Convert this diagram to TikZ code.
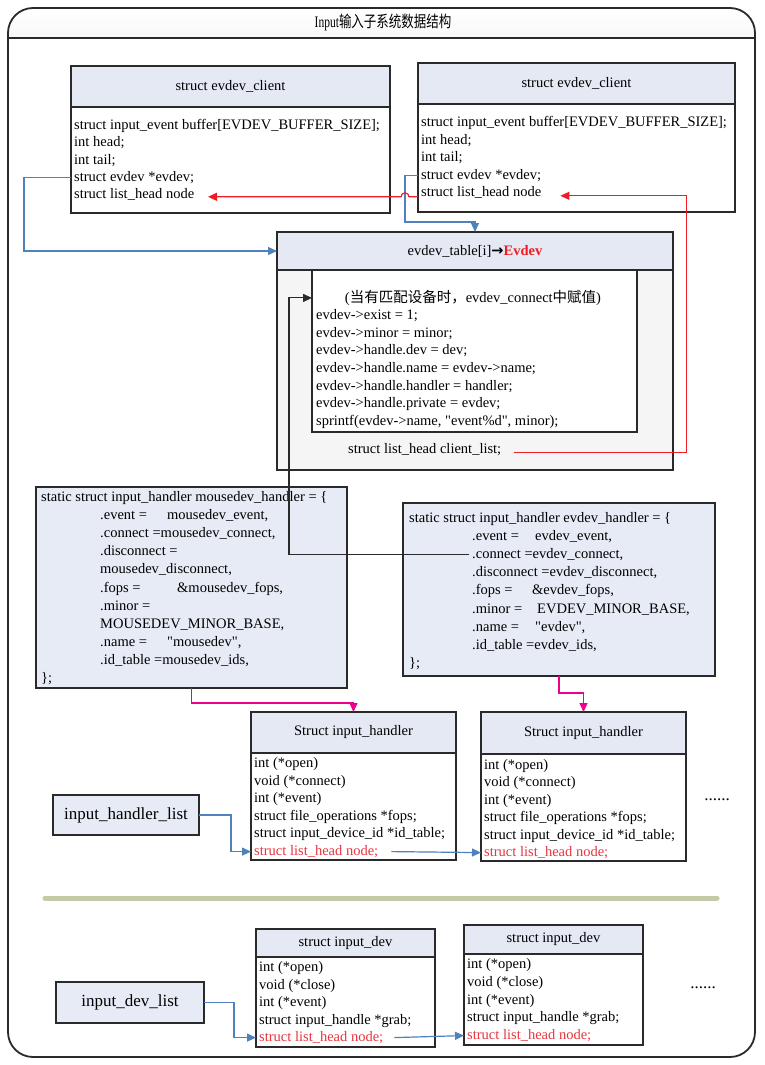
\documentclass[tikz,border=0pt]{standalone}
\usepackage{fontspec}
\setmainfont{Liberation Serif}[Ligatures=TeXOff]
\newfontfamily\cjk{Noto Sans CJK SC}
\newfontfamily\titlecjk{Noto Sans CJK SC}[FakeStretch=0.78]
\newfontfamily\titlerm{Liberation Serif}[FakeStretch=0.72]
\newfontfamily\symf{DejaVu Sans}
\usetikzlibrary{positioning, arrows.meta}
\newcommand\codefont{\fontsize{14.5}{17.5}\selectfont}
\definecolor{hdrfill}{HTML}{E4E9F4}
\definecolor{boxfill}{HTML}{E6EBF5}
\definecolor{tablefill}{HTML}{F5F5F5}
\definecolor{boxline}{HTML}{2A2A2A}
\definecolor{connblue}{HTML}{4F81BD}
\definecolor{listred}{HTML}{E8353F}
\definecolor{ptrred}{HTML}{EE1C24}
\definecolor{sepgreen}{HTML}{C5C9A6}
\tikzset{
  hdr/.style={draw=boxline, line width=1.4pt, fill=hdrfill, inner sep=0pt, outer sep=0pt, font=\codefont},
  bodybox/.style={draw=boxline, line width=1.4pt, fill=white, inner sep=0pt, outer sep=0pt},
  handlerbox/.style={draw=boxline, line width=1.4pt, fill=boxfill, inner sep=0pt, outer sep=0pt},
  codeline/.style={anchor=base west, inner xsep=3pt, inner ysep=1pt, font=\codefont},
  redcode/.style={codeline, text=listred},
  listbox/.style={draw=boxline, line width=1.4pt, fill=boxfill, inner sep=0pt, outer sep=0pt, font=\fontsize{17}{20}\selectfont},
  blueconn/.style={draw=connblue, line width=1.2pt, -{Triangle[length=9pt,width=8pt]}},
  redconn/.style={draw=ptrred, line width=1.2pt, -{Triangle[length=9pt,width=8pt]}},
  pinkconn/.style={draw=magenta, line width=1.2pt, -{Triangle[length=9pt,width=8pt]}},
  grayconn/.style={draw=boxline, line width=1.1pt, -{Triangle[length=9pt,width=8pt]}},
}

\begin{document}
\begin{tikzpicture}[x=1pt, y=-1pt]
\useasboundingbox (0,0) rectangle (765,1065);
% frame and title band
\begin{scope}
\clip (0,0) rectangle (765,38);
\shade[top color=white, bottom color=gray!15, rounded corners=25pt] (8,8) rectangle (755,90);
\end{scope}
\draw[boxline, line width=1.8pt, rounded corners=25pt] (8,8) rectangle (755,1057);
\draw[boxline, line width=1.5pt] (8,38) -- (755,38);
\node[font=\fontsize{16}{18}\selectfont] (title) at (383,22) {{\titlerm Input}{\titlecjk 输入子系统数据结构}};

% evdev_client (left)
\node[hdr, minimum width=319pt, minimum height=41pt] (hA) at (230.5,86.5) {struct evdev\_client};
\node[bodybox, minimum width=319pt, minimum height=106pt, below=0pt of hA] (bA) {};
\foreach \t [count=\i] in {{struct input\_event buffer[EVDEV\_BUFFER\_SIZE];},{int head;},{int tail;},{struct evdev *evdev;},{struct list\_head node}}
  \node[codeline] (a\i) at (71,{129.5+(\i-1)*17.3}) {\t};

% evdev_client (right)
\node[hdr, minimum width=317pt, minimum height=41pt] (hB) at (576.5,83.5) {struct evdev\_client};
\node[bodybox, minimum width=317pt, minimum height=108pt, below=0pt of hB] (bB) {};
\foreach \t [count=\i] in {{struct input\_event buffer[EVDEV\_BUFFER\_SIZE];},{int head;},{int tail;},{struct evdev *evdev;},{struct list\_head node}}
  \node[codeline] (b\i) at (418,{126.5+(\i-1)*17.6}) {\t};

% evdev_table
\node[hdr, minimum width=396pt, minimum height=38pt] (hC) at (475,251) {evdev\_table[i]{\symf\bfseries →}\textcolor{ptrred}{\textbf{Evdev}}};
\node[bodybox, fill=tablefill, minimum width=396pt, minimum height=200pt, below=0pt of hC] (bC) {};
\node[bodybox, minimum width=325pt, minimum height=162pt] (cIn) at (474.5,351) {};
\node[font=\codefont, anchor=base] (c0) at (473,302.5) {({\cjk 当有匹配设备时，}evdev\_connect{\cjk 中赋值})};
\foreach \t [count=\i] in {{evdev->exist = 1;},{evdev->minor = minor;},{evdev->handle.dev = dev;},{evdev->handle.name = evdev->name;},{evdev->handle.handler = handler;},{evdev->handle.private = evdev;},{sprintf(evdev->name, "event\%d", minor);}}
  \node[codeline] (c\i) at (313,{319.5+(\i-1)*17.67}) {\t};
\node[codeline] (cl) at (345,453.5) {struct list\_head client\_list;};

% mousedev_handler
\node[handlerbox, minimum width=311pt, minimum height=201pt] (mh) at (191.5,587.5) {};
\node[codeline] (d1) at (38,501.5) {static struct input\_handler mousedev\_handler = \{};
\node[codeline] (d2) at (97,519.6) {\makebox[67pt][l]{.event =}mousedev\_event,};
\node[codeline] (d3) at (97,537.7) {.connect =mousedev\_connect,};
\node[codeline] (d4) at (97,555.8) {.disconnect =};
\node[codeline] (d5) at (97,573.9) {mousedev\_disconnect,};
\node[codeline] (d6) at (97,592) {\makebox[77pt][l]{.fops =}\&mousedev\_fops,};
\node[codeline] (d7) at (97,610.1) {.minor =};
\node[codeline] (d8) at (97,628.2) {MOUSEDEV\_MINOR\_BASE,};
\node[codeline] (d9) at (97,646.3) {\makebox[67pt][l]{.name =}"mousedev",};
\node[codeline] (d10) at (97,664.4) {.id\_table =mousedev\_ids,};
\node[codeline] (d11) at (38,682.5) {\};};

% evdev_handler
\node[handlerbox, minimum width=312pt, minimum height=173pt] (eh) at (559,589.5) {};
\node[codeline] (e1) at (406,522.5) {static struct input\_handler evdev\_handler = \{};
\node[codeline] (e2) at (469,540.6) {\makebox[63pt][l]{.event =}evdev\_event,};
\node[codeline] (e3) at (469,558.7) {.connect =evdev\_connect,};
\node[codeline] (e4) at (469,576.8) {.disconnect =evdev\_disconnect,};
\node[codeline] (e5) at (469,594.9) {\makebox[60pt][l]{.fops =}\&evdev\_fops,};
\node[codeline] (e6) at (469,613) {\makebox[65pt][l]{.minor =}EVDEV\_MINOR\_BASE,};
\node[codeline] (e7) at (469,631.1) {\makebox[63pt][l]{.name =}"evdev",};
\node[codeline] (e8) at (469,649.2) {.id\_table =evdev\_ids,};
\node[codeline] (e9) at (406,667.3) {\};};

% input_handler structs
\node[hdr, minimum width=205pt, minimum height=41pt] (hF) at (353.5,732.5) {Struct input\_handler};
\node[bodybox, minimum width=205pt, minimum height=107pt, below=0pt of hF] (bF) {};
\foreach \t [count=\i] in {{int (*open)},{void (*connect)},{int (*event)},{struct file\_operations *fops;},{struct input\_device\_id *id\_table;}}
  \node[codeline] (f\i) at (251,{767.5+(\i-1)*17.6}) {\t};
\node[redcode] (f6) at (251,855.5) {struct list\_head node;};

\node[hdr, minimum width=205pt, minimum height=42pt] (hG) at (583.5,733) {Struct input\_handler};
\node[bodybox, minimum width=205pt, minimum height=107pt, below=0pt of hG] (bG) {};
\foreach \t [count=\i] in {{int (*open)},{void (*connect)},{int (*event)},{struct file\_operations *fops;},{struct input\_device\_id *id\_table;}}
  \node[codeline] (g\i) at (481,{769.5+(\i-1)*17.4}) {\t};
\node[redcode] (g6) at (481,856.5) {struct list\_head node;};

\node[listbox, minimum width=146pt, minimum height=40pt] (hlist) at (126,815) {input\_handler\_list};
\node[font=\fontsize{17}{20}\selectfont] (dots1) at (717,800) {......};

% separator
\draw[sepgreen, line width=5pt, line cap=round] (45,898) -- (717,898);

% input_dev structs
\node[hdr, minimum width=179pt, minimum height=28pt] (hH) at (345.5,943) {struct input\_dev};
\node[bodybox, minimum width=179pt, minimum height=90pt, below=0pt of hH] (bH) {};
\foreach \t [count=\i] in {{int (*open)},{void (*close)},{int (*event)},{struct input\_handle *grab;}}
  \node[codeline] (h\i) at (256,{971.5+(\i-1)*17.5}) {\t};
\node[redcode] (h5) at (256,1041.5) {struct list\_head node;};

\node[hdr, minimum width=179pt, minimum height=29pt] (hI) at (553.5,939.5) {struct input\_dev};
\node[bodybox, minimum width=179pt, minimum height=91pt, below=0pt of hI] (bI) {};
\foreach \t [count=\i] in {{int (*open)},{void (*close)},{int (*event)},{struct input\_handle *grab;}}
  \node[codeline] (i\i) at (464,{968.5+(\i-1)*17.75}) {\t};
\node[redcode] (i5) at (464,1039.5) {struct list\_head node;};

\node[listbox, minimum width=148pt, minimum height=41pt] (dlist) at (130,1002.5) {input\_dev\_list};
\node[font=\fontsize{17}{20}\selectfont] (dots2) at (703,988) {......};

% connectors
\draw[blueconn] (a4.west) -- ++(-47,0) |- (hC.west);
\draw[blueconn] (b4.west) -- ++(-13,0) |- ([yshift=10pt]hC.north) -- (hC.north);
\draw[redconn] ([yshift=-4pt]b5.west) -- ++(-9,0) arc (0:-180:4) -- ++(-193,0);
\draw[redconn] ([xshift=10pt,yshift=-3pt]cl.east) -- ++(172,0) |- ([xshift=16pt,yshift=-3pt]b5.east);
\draw[grayconn] (e3.west) -- ++(-180,0) |- (cIn.west |- c0);
\draw[pinkconn] (mh.south) -- ++(0,15) -| (hF.north);
\draw[pinkconn] (eh.south) -- ++(0,17) -| (hG.north);
\draw[blueconn] (hlist.east) -- ++(32,0) |- (f6.west);
\draw[blueconn] ([xshift=10pt]f6.east) -- (g6.west);
\draw[blueconn] (dlist.east) -- ++(30,0) |- (h5.west);
\draw[blueconn] ([xshift=8pt]h5.east) -- (i5.west);
\end{tikzpicture}
\end{document}
